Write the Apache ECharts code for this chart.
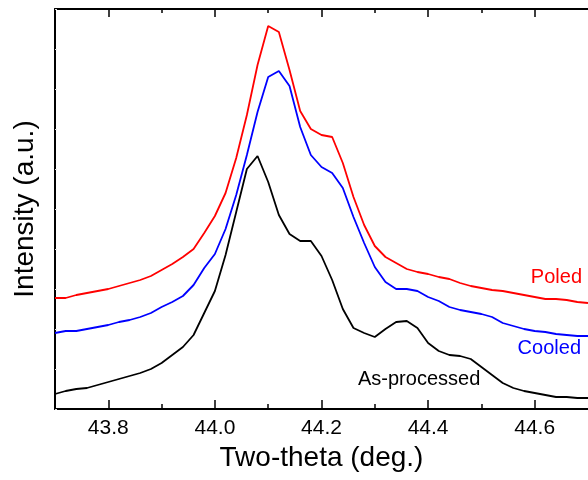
<!DOCTYPE html>
<html>
<head>
<meta charset="utf-8">
<script src="https://cdn.jsdelivr.net/npm/echarts@6/dist/echarts.min.js"></script>
<style>html,body{margin:0;padding:0;background:#fff}#c{width:588px;height:480px}</style>
</head>
<body>
<div id="c"></div>
<script>
// Two-theta grid (deg.), step 0.02
var twoTheta = [43.70,43.72,43.74,43.76,43.78,43.80,43.82,43.84,43.86,43.88,
  43.90,43.92,43.94,43.96,43.98,44.00,44.02,44.04,44.06,44.08,
  44.10,44.12,44.14,44.16,44.18,44.20,44.22,44.24,44.26,44.28,
  44.30,44.32,44.34,44.36,44.38,44.40,44.42,44.44,44.46,44.48,
  44.50,44.52,44.54,44.56,44.58,44.60,44.62,44.64,44.66,44.68,44.70];
var poled = [111,111,114,116,118,120,123,126,129,133,139,145,152,160,176,193,216,251,294,344,
  383,377,339,298,280,274,272,246,212,184,163,152,146,140,137,135,132,130,126,123,
  121,119,118,116,114,112,110,110,109,107,106];
var cooled = [76,78,78,80,82,84,87,89,92,96,102,107,113,124,141,155,180,214,254,297,
  332,338,323,282,254,242,236,221,192,166,142,127,120,120,118,112,108,102,99,97,
  95,92,86,83,80,78,77,75,74,73,73];
var asProcessed = [15,18,20,21,24,27,30,33,36,40,46,54,62,74,96,118,154,197,240,253,
  227,194,175,168,168,153,129,100,81,76,72,80,87,88,81,66,58,54,53,50,
  42,34,26,21,18,16,14,12,12,11,11];
var majorTicks = [43.8, 44.0, 44.2, 44.4, 44.6];
var minorTicks = [43.9, 44.1, 44.3, 44.5];
var seriesNames = ['Poled', 'Cooled', 'As-processed'];
var seriesColors = ['#ff0000', '#0000ff', '#000000'];

function pairs(ys){ return ys.map(function(v,i){ return [twoTheta[i], v]; }); }

var chart = echarts.init(document.getElementById('c'), null, {renderer:'canvas'});
var font = 'Liberation Sans, Arial, sans-serif';
function xa(pos, ticks, len, show, extra){
  var o = {
    type:'value', min:43.7, max:44.7, position:pos, gridIndex:0,
    axisLine:{show:show, lineStyle:{color:'#000', width:2}},
    axisTick:{show:true, inside:true, length:len, customValues:ticks, lineStyle:{color:'#000', width:1.5}},
    axisLabel:{show:false},
    splitLine:{show:false}
  };
  return Object.assign(o, extra||{});
}
var option = {
  animation:false,
  backgroundColor:'#fff',
  grid:{left:55, top:9, width:538, height:400, containLabel:false},
  xAxis:[
    xa('bottom', majorTicks, 9, true, {
      name:'Two-theta (deg.)', nameLocation:'middle', nameGap:34,
      nameTextStyle:{fontFamily:font, fontSize:28, color:'#000'},
      axisLabel:{show:true, customValues:majorTicks, margin:9, fontFamily:font, fontSize:21, color:'#000',
        formatter:function(v){ return v.toFixed(1); }}
    }),
    xa('bottom', minorTicks, 5, false),
    xa('top', majorTicks, 8, true),
    xa('top', minorTicks, 4, false)
  ],
  yAxis:{
    type:'value', min:0, max:400, interval:40,
    name:'Intensity (a.u.)', nameLocation:'middle', nameGap:16,
    nameTextStyle:{fontFamily:font, fontSize:28, color:'#000'},
    axisLine:{show:true, lineStyle:{color:'#000', width:2}},
    axisTick:{show:true, inside:true, length:2, lineStyle:{color:'#e0e0e0', width:1}},
    axisLabel:{show:false},
    splitLine:{show:false}
  },
  series:[poled, cooled, asProcessed].map(function(d, k){
    return {type:'line', name:seriesNames[k], xAxisIndex:0, data:pairs(d), showSymbol:false, symbol:'none',
      lineStyle:{color:seriesColors[k], width:1.8}, clip:true};
  }),
  graphic:[
    {type:'text', right:6, top:267, style:{text:'Poled', fill:'#ff0000', font:'20px ' + font}},
    {type:'text', right:7, top:338, style:{text:'Cooled', fill:'#0000ff', font:'20px ' + font}},
    {type:'text', left:358, top:369, style:{text:'As-processed', fill:'#000000', font:'20px ' + font}}
  ]
};
chart.setOption(option);
</script>
</body>
</html>
